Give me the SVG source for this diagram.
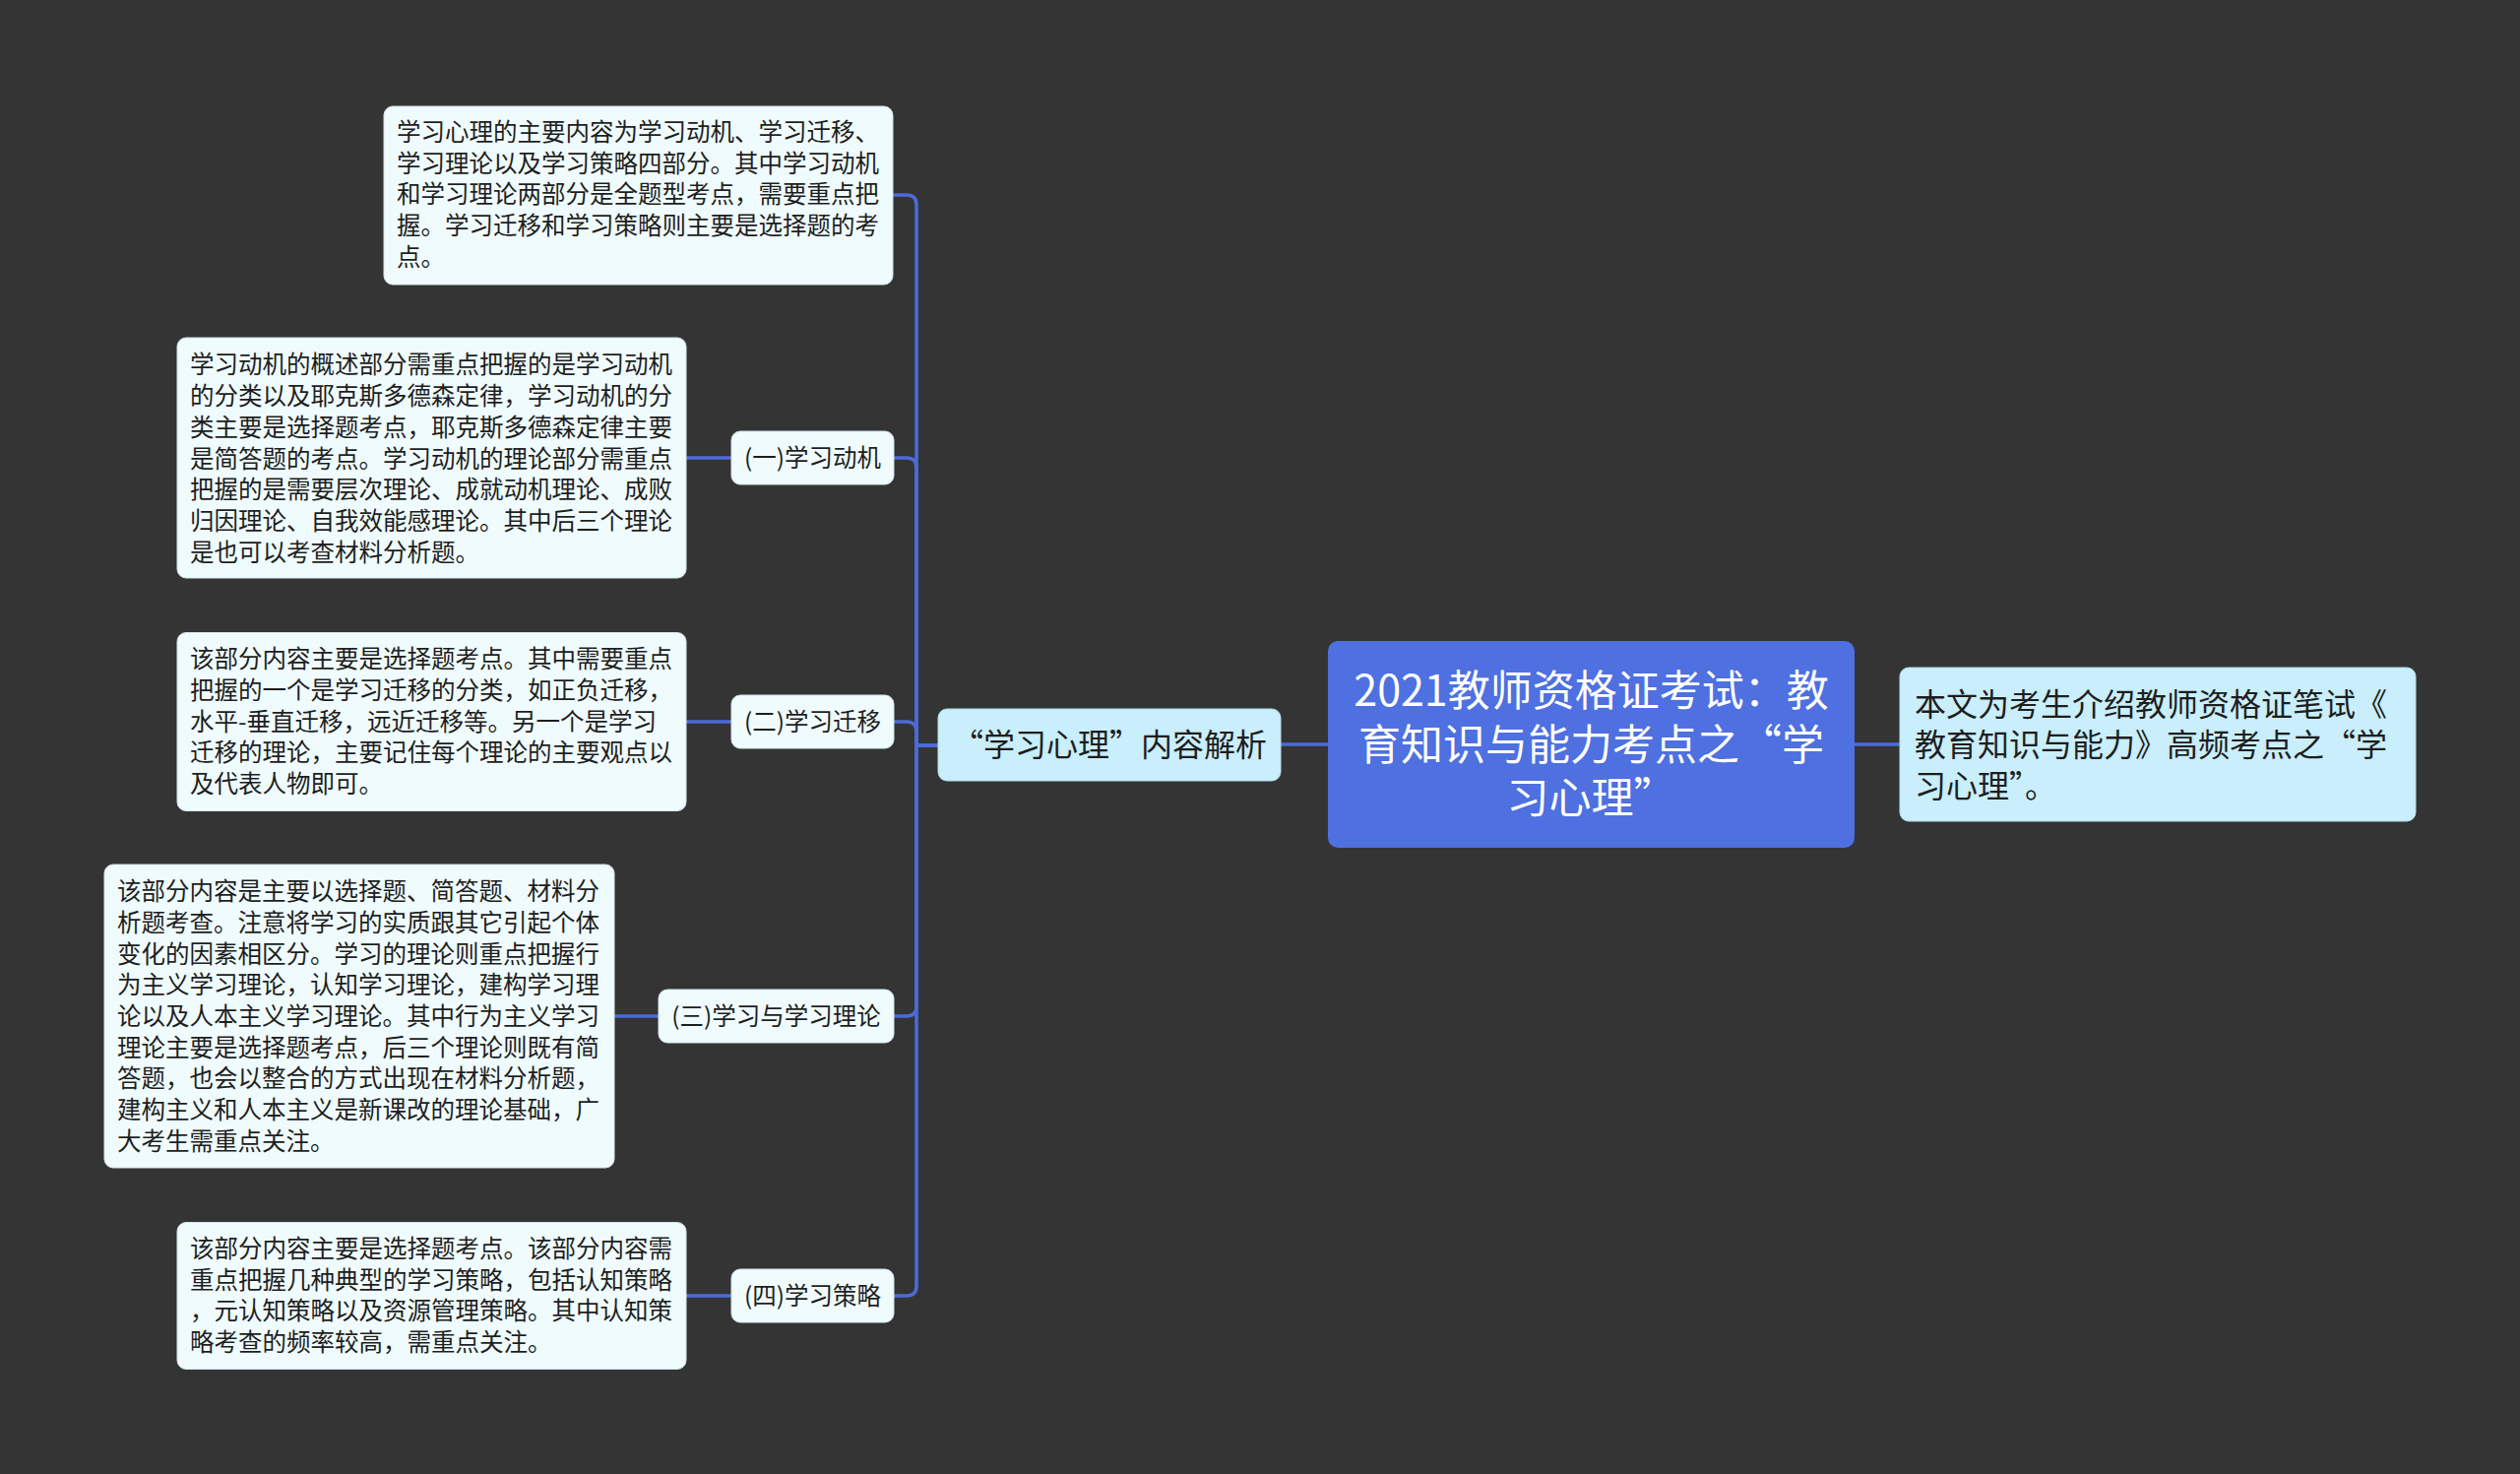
<svg xmlns="http://www.w3.org/2000/svg" width="2560" height="1497" viewBox="0 0 2560 1497">
<style>
.bg{fill:#343434}
.conn{fill:none;stroke:#4b6bd9;stroke-width:3.5;stroke-linecap:round}
.leaf{fill:#effbfc;stroke:#d6e6ea;stroke-width:1}
.sub{fill:#effbfc;stroke:#d6e6ea;stroke-width:1}
.lb{fill:#c9eefc;stroke:#b5dcea;stroke-width:1}
.root{fill:#4e70e0}
text{font-family:"Noto Sans CJK SC","Noto Sans",sans-serif;fill:#1e1e1e}
.t{font-size:24.5px}
.m{font-size:32px}
.r{font-size:43px;fill:#ffffff}
</style>
<rect class="bg" x="0" y="0" width="2560" height="1497"/>
<g id="connectors">
<path class="conn" d="M1349 756 H1301"/>
<path class="conn" d="M1884 756 H1930"/>
<path class="conn" d="M953 757 H931 V208 Q931 198 921 198 H907"/>
<path class="conn" d="M953 757 H931 V475 Q931 465 921 465 H908"/>
<path class="conn" d="M953 757 H931 V743 Q931 733 921 733 H908"/>
<path class="conn" d="M953 757 H931 V1022 Q931 1032 921 1032 H908"/>
<path class="conn" d="M953 757 H931 V1306 Q931 1316 921 1316 H908"/>
<path class="conn" d="M743 465 H697"/>
<path class="conn" d="M743 733 H697"/>
<path class="conn" d="M669 1032 H624"/>
<path class="conn" d="M743 1316 H697"/>
</g>
<g id="root">
<rect class="root" x="1349" y="651" width="535" height="210" rx="10"/>
<text class="r" text-anchor="middle"><tspan x="1616.5" y="717">2021教师资格证考试：教</tspan><tspan x="1616.5" y="772">育知识与能力考点之“学</tspan><tspan x="1616.5" y="826">习心理”</tspan></text>
</g>
<g id="intro">
<rect class="lb" x="1930" y="678" width="524" height="156" rx="9"/>
<text class="m"><tspan x="1945" y="727">本文为考生介绍教师资格证笔试《</tspan><tspan x="1945" y="768">教育知识与能力》高频考点之“学</tspan><tspan x="1945" y="810">习心理”。</tspan></text>
</g>
<g id="branch">
<rect class="lb" x="953" y="720" width="348" height="73" rx="9"/>
<text class="m" text-anchor="middle" x="1127" y="768">“学习心理”内容解析</text>
</g>
<g id="leaf0">
<rect class="leaf" x="390" y="108" width="517" height="181" rx="9"/>
<text class="t"><tspan x="403" y="143">学习心理的主要内容为学习动机、学习迁移、</tspan><tspan x="403" y="174.7">学习理论以及学习策略四部分。其中学习动机</tspan><tspan x="403" y="206.4">和学习理论两部分是全题型考点，需要重点把</tspan><tspan x="403" y="238.1">握。学习迁移和学习策略则主要是选择题的考</tspan><tspan x="403" y="269.8">点。</tspan></text>
</g>
<g id="sub1">
<rect class="sub" x="743" y="438" width="165" height="54" rx="9"/>
<text class="t" text-anchor="middle" x="825.5" y="473.5">(一)学习动机</text>
</g>
<g id="leaf1">
<rect class="leaf" x="180" y="343" width="517" height="244" rx="9"/>
<text class="t"><tspan x="193" y="379.4">学习动机的概述部分需重点把握的是学习动机</tspan><tspan x="193" y="411.1">的分类以及耶克斯多德森定律，学习动机的分</tspan><tspan x="193" y="442.8">类主要是选择题考点，耶克斯多德森定律主要</tspan><tspan x="193" y="474.5">是简答题的考点。学习动机的理论部分需重点</tspan><tspan x="193" y="506.2">把握的是需要层次理论、成就动机理论、成败</tspan><tspan x="193" y="537.9">归因理论、自我效能感理论。其中后三个理论</tspan><tspan x="193" y="569.6">是也可以考查材料分析题。</tspan></text>
</g>
<g id="sub2">
<rect class="sub" x="743" y="706" width="165" height="54" rx="9"/>
<text class="t" text-anchor="middle" x="825.5" y="741.5">(二)学习迁移</text>
</g>
<g id="leaf2">
<rect class="leaf" x="180" y="642.5" width="517" height="181" rx="9"/>
<text class="t"><tspan x="193" y="678.2">该部分内容主要是选择题考点。其中需要重点</tspan><tspan x="193" y="709.9">把握的一个是学习迁移的分类，如正负迁移，</tspan><tspan x="193" y="741.6">水平-垂直迁移，远近迁移等。另一个是学习</tspan><tspan x="193" y="773.3">迁移的理论，主要记住每个理论的主要观点以</tspan><tspan x="193" y="805">及代表人物即可。</tspan></text>
</g>
<g id="sub3">
<rect class="sub" x="669" y="1005" width="239" height="54" rx="9"/>
<text class="t" text-anchor="middle" x="788.5" y="1040.5">(三)学习与学习理论</text>
</g>
<g id="leaf3">
<rect class="leaf" x="106" y="878" width="518" height="308" rx="9"/>
<text class="t"><tspan x="119" y="914.2">该部分内容是主要以选择题、简答题、材料分</tspan><tspan x="119" y="945.9">析题考查。注意将学习的实质跟其它引起个体</tspan><tspan x="119" y="977.6">变化的因素相区分。学习的理论则重点把握行</tspan><tspan x="119" y="1009.3">为主义学习理论，认知学习理论，建构学习理</tspan><tspan x="119" y="1041">论以及人本主义学习理论。其中行为主义学习</tspan><tspan x="119" y="1072.7">理论主要是选择题考点，后三个理论则既有简</tspan><tspan x="119" y="1104.4">答题，也会以整合的方式出现在材料分析题，</tspan><tspan x="119" y="1136.1">建构主义和人本主义是新课改的理论基础，广</tspan><tspan x="119" y="1167.8">大考生需重点关注。</tspan></text>
</g>
<g id="sub4">
<rect class="sub" x="743" y="1289" width="165" height="54" rx="9"/>
<text class="t" text-anchor="middle" x="825.5" y="1324.5">(四)学习策略</text>
</g>
<g id="leaf4">
<rect class="leaf" x="180" y="1241.5" width="517" height="149" rx="9"/>
<text class="t"><tspan x="193" y="1277">该部分内容主要是选择题考点。该部分内容需</tspan><tspan x="193" y="1308.7">重点把握几种典型的学习策略，包括认知策略</tspan><tspan x="193" y="1340.4">，元认知策略以及资源管理策略。其中认知策</tspan><tspan x="193" y="1372.1">略考查的频率较高，需重点关注。</tspan></text>
</g>
</svg>
